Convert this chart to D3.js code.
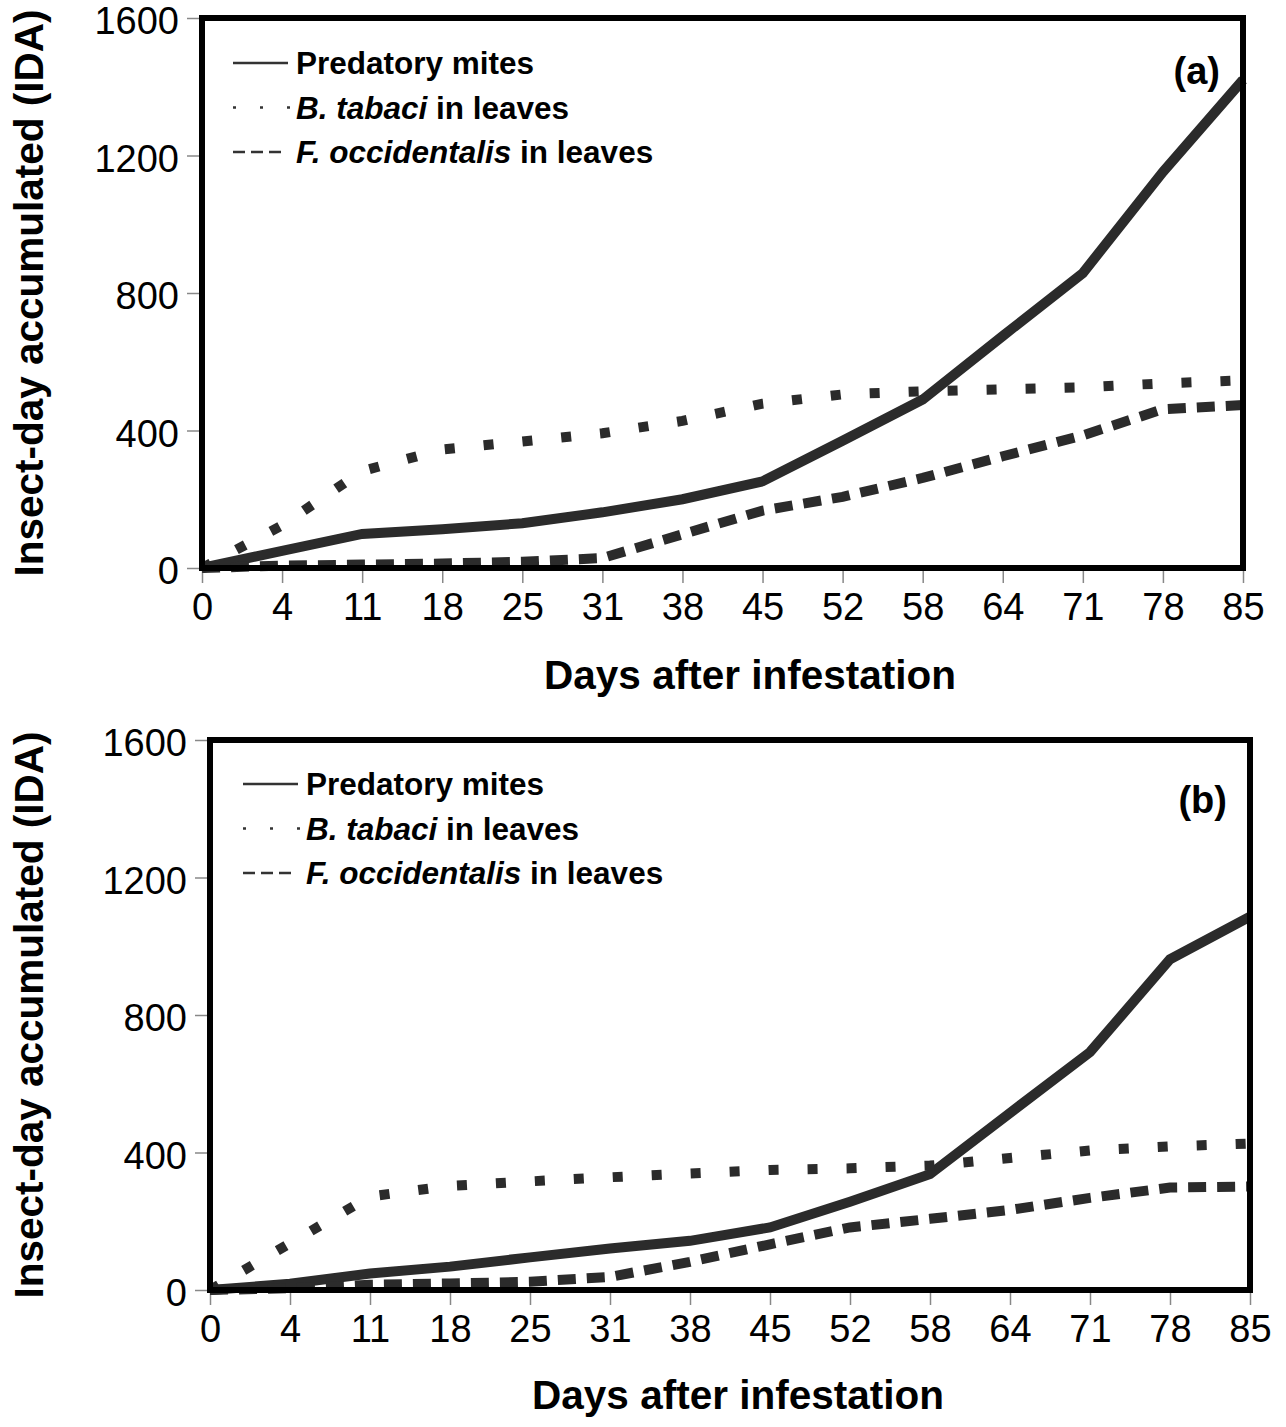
<!DOCTYPE html>
<html><head><meta charset="utf-8">
<script src="https://cdn.jsdelivr.net/npm/d3@7"></script>
<style>
body{margin:0;background:#fff;}
text{fill:#000;}
</style></head>
<body><svg id="chart" width="1286" height="1427"></svg>
<script>
const days = ["0","4","11","18","25","31","38","45","52","58","64","71","78","85"];
const yTicks = [0,400,800,1200,1600];
const seriesNames = ["Predatory mites","B. tabaci in leaves","F. occidentalis in leaves"];
// Panel (a)
const mitesA   = [0,50,99,113,130,162,200,252,370,490,675,858,1152,1420];
const tabaciA  = [0,124,282,345,368,392,428,478,505,514,520,526,537,546];
const frankA   = [0,7,10,13,18,29,98,167,207,262,325,386,462,474];
// Panel (b)
const mitesB   = [0,18,48,68,95,121,143,182,257,337,515,692,962,1086];
const tabaciB  = [0,136,272,303,316,328,339,349,354,362,384,406,418,426];
const frankB   = [0,5,15,19,24,38,82,133,182,207,233,268,298,301];

const svg = d3.select("#chart");
const FONT = "'Liberation Sans',Arial,sans-serif";
const lineColor = "#2b2b2b";

function panel(cfg){
  const x = d3.scalePoint().domain(days).range([cfg.left, cfg.right]);
  const y = d3.scaleLinear().domain([0,1600]).range([cfg.bottom, cfg.top]);
  const g = svg.append("g");

  // axes
  const yAx = g.append("g").attr("transform",`translate(${cfg.left},0)`)
    .call(d3.axisLeft(y).tickValues(yTicks).tickSize(15).tickPadding(8).tickFormat(d3.format("d")));
  yAx.select(".domain").remove();
  yAx.selectAll("line").attr("stroke","#888").attr("stroke-width",1.5);
  yAx.selectAll("text").style("font-family",FONT).style("font-size","38px").attr("dy","0.42em");

  const xAx = g.append("g").attr("transform",`translate(0,${cfg.bottom})`)
    .call(d3.axisBottom(x).tickSize(15).tickPadding(10));
  xAx.select(".domain").remove();
  xAx.selectAll("line").attr("stroke","#888").attr("stroke-width",1.5);
  xAx.selectAll("text").style("font-family",FONT).style("font-size","38px").attr("dy","0.72em");

  // series
  const line = d3.line().x((d,i)=>x(days[i])).y(d=>y(d));
  const styles = [null,"10,29","18,11"];
  [cfg.mites,cfg.tabaci,cfg.frank].forEach((s,k)=>{
    g.append("path").datum(s).attr("d",line).attr("fill","none")
      .attr("stroke",lineColor).attr("stroke-width",10)
      .attr("stroke-linejoin","miter")
      .attr("stroke-dasharray",styles[k]);
  });

  // frame
  g.append("rect").attr("x",cfg.left).attr("y",cfg.top)
    .attr("width",cfg.right-cfg.left).attr("height",cfg.bottom-cfg.top)
    .attr("fill","none").attr("stroke","#000").attr("stroke-width",6);

  // legend
  const legDash = [null,"3,24","12,6"];
  const legLen = [55,57,49];
  seriesNames.forEach((n,k)=>{
    const ly = cfg.legTop + k*44.5;
    g.append("line").attr("x1",cfg.legX).attr("x2",cfg.legX+legLen[k]).attr("y1",ly).attr("y2",ly)
      .attr("stroke","#333").attr("stroke-width",2.5).attr("stroke-dasharray",legDash[k]);
    const t = g.append("text").attr("x",cfg.legX+63).attr("y",ly).attr("dy","0.36em")
      .style("font-family",FONT).style("font-size","31.5px").style("font-weight","bold");
    if(k===0){ t.text(n); }
    else {
      const parts = n.split(" in ");
      t.append("tspan").style("font-style","italic").text(parts[0]);
      t.append("tspan").text(" in "+parts[1]);
    }
  });

  g.append("text").attr("x",cfg.tagX).attr("y",cfg.tagY).attr("text-anchor","end")
    .style("font-family",FONT).style("font-size","38px").style("font-weight","bold").text(cfg.tag);

  // axis titles
  g.append("text").attr("x",cfg.xTitleX).attr("y",cfg.xTitleY).attr("text-anchor","middle")
    .style("font-family",FONT).style("font-size","40.5px").style("font-weight","bold")
    .text("Days after infestation");
  g.append("text").attr("transform",`translate(${cfg.yTitleX},${(cfg.top+cfg.bottom)/2}) rotate(-90)`)
    .attr("text-anchor","middle")
    .style("font-family",FONT).style("font-size","40.5px").style("font-weight","bold")
    .text("Insect-day accumulated (IDA)");
}

panel({left:202,right:1243,top:18,bottom:568,mites:mitesA,tabaci:tabaciA,frank:frankA,
  legX:233,legTop:63,tag:"(a)",tagX:1220,tagY:84,xTitleX:750,xTitleY:689,yTitleX:43});
panel({left:210,right:1250,top:740,bottom:1290,mites:mitesB,tabaci:tabaciB,frank:frankB,
  legX:243,legTop:784,tag:"(b)",tagX:1227,tagY:813,xTitleX:738,xTitleY:1409,yTitleX:43});
</script></body></html>
